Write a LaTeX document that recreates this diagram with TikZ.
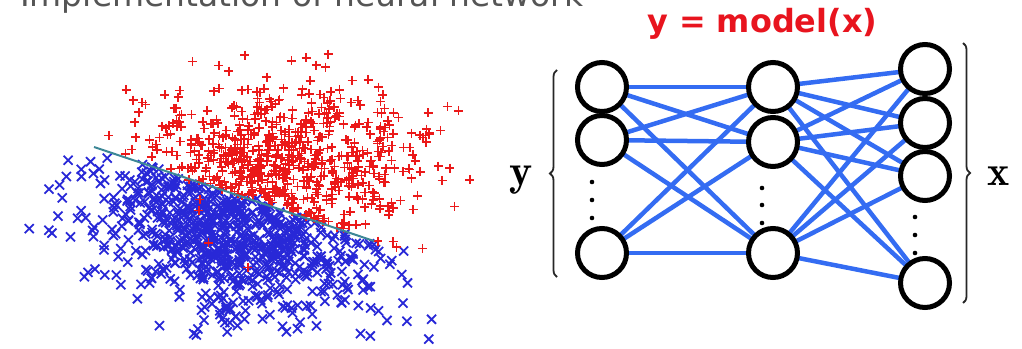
\documentclass[tikz,border=0pt]{standalone}
\usepackage{fontspec}
\newfontfamily\titlefont{DejaVu Sans}
\newfontfamily\modelfont{DejaVu Sans}
\usetikzlibrary{decorations.pathreplacing,backgrounds}
\definecolor{titlegray}{RGB}{85,85,85}
\definecolor{modelred}{RGB}{232,20,30}
\definecolor{edgeblue}{RGB}{52,108,242}
\definecolor{ptred}{RGB}{235,25,25}
\definecolor{ptblue}{RGB}{40,40,215}
\definecolor{sepline}{RGB}{60,135,150}
\tikzset{
  neuron/.style={circle,draw=black,line width=5pt,minimum size=49pt,inner sep=0pt,fill=white},
  edge/.style={draw=edgeblue,line width=4.5pt},
  redmark/.style={draw=ptred,line width=1.6pt},
  bluemark/.style={draw=ptblue,line width=1.8pt},
  dotmark/.style={fill=black,draw=none},
  bracedeco/.style={decorate,decoration={brace,amplitude=7pt},line width=1.8pt,draw=black!85},
}
\begin{document}
\begin{tikzpicture}[x=1pt,y=-1pt]
\useasboundingbox (0,0) rectangle (1022,348);
% title (cut off at top)
\node[anchor=base west,inner sep=0pt,text=titlegray] (title) at (20,6)
  {\resizebox{563pt}{!}{\titlefont Implementation of neural network}};
% scatter plot
\pgfmathsetseed{4711}
\foreach \i in {1,...,950}{
  \pgfmathsetmacro\ua{rnd*0.998+0.001}
  \pgfmathsetmacro\ub{rnd}
  \pgfmathsetmacro\uc{rnd}
  \pgfmathsetmacro\za{sqrt(-2*ln(\ua))*cos(360*\ub)}
  \pgfmathsetmacro\zb{sqrt(-2*ln(\ua))*sin(360*\ub)}
  \pgfmathsetmacro\px{232+72*0.948*\za-38*0.317*\zb}
  \pgfmathsetmacro\py{232+72*0.317*\za+38*0.948*\zb}
  \pgfmathtruncatemacro\keep{((\py > 147+0.3357*(\px-94)) || (\uc<0.02)) && (\px>18) && (\px<490) && (\py>50) && (\py<342) ? 1 : 0}
  \ifnum\keep=1
    \draw[bluemark] (\px,\py) +(-4.5,-4.5) -- +(4.5,4.5) +(-4.5,4.5) -- +(4.5,-4.5);
  \fi
}
\foreach \i in {1,...,820}{
  \pgfmathsetmacro\ua{rnd*0.998+0.001}
  \pgfmathsetmacro\ub{rnd}
  \pgfmathsetmacro\uc{rnd}
  \pgfmathsetmacro\za{sqrt(-2*ln(\ua))*cos(360*\ub)}
  \pgfmathsetmacro\zb{sqrt(-2*ln(\ua))*sin(360*\ub)}
  \pgfmathsetmacro\px{268+76*\za}
  \pgfmathsetmacro\py{168+42*\zb}
  \pgfmathtruncatemacro\keep{((\py < 147+0.3357*(\px-94)) || (\uc<0.05)) && (\px>18) && (\px<490) && (\py>50) && (\py<342) ? 1 : 0}
  \ifnum\keep=1
    \draw[redmark] (\px,\py) +(-4.5,0) -- +(4.5,0) +(0,-4.5) -- +(0,4.5);
  \fi
}
\coordinate (sepA) at (94,147);
\coordinate (sepB) at (374,241);
\draw[sepline,line width=2pt] (sepA) -- (sepB);
% neural network
\node[neuron] (l1) at (602,87) {};
\node[neuron] (l2) at (602,140) {};
\node[neuron] (l3) at (602,253) {};
\node[neuron] (m1) at (773,87) {};
\node[neuron] (m2) at (773,142) {};
\node[neuron] (m3) at (773,253) {};
\node[neuron] (r1) at (925,69) {};
\node[neuron] (r2) at (925,123) {};
\node[neuron] (r3) at (925,176) {};
\node[neuron] (r4) at (925,283) {};
\begin{scope}[on background layer]
\foreach \a in {l1,l2,l3}{\foreach \b in {m1,m2,m3}{\draw[edge] (\a.center) -- (\b.center);}}
\foreach \a in {m1,m2,m3}{\foreach \b in {r1,r2,r3,r4}{\draw[edge] (\a.center) -- (\b.center);}}
\end{scope}
% vertical dots
\foreach \y in {182,200,218}{\fill[dotmark] (592,\y) circle (2.3);}
\foreach \y in {188,205,223}{\fill[dotmark] (762,\y) circle (2.3);}
\foreach \y in {217,235,253}{\fill[dotmark] (915,\y) circle (2.3);}
% braces
\coordinate (lbB) at (557,277);
\coordinate (lbT) at (557,70);
\draw[bracedeco] (lbB) -- (lbT);
\coordinate (rbT) at (963,43);
\coordinate (rbB) at (963,303);
\draw[bracedeco] (rbT) -- (rbB);
\node[anchor=base,inner sep=0pt] (ylab) at (521,185) {\fontsize{44}{44}\selectfont$\mathbf{y}$};
\node[anchor=base,inner sep=0pt] (xlab) at (999,185) {\fontsize{42}{42}\selectfont$\mathbf{x}$};
% model label
\node[anchor=base west,inner sep=0pt,text=modelred] (model) at (647,33)
  {\resizebox{230pt}{!}{\modelfont\bfseries y = model(x)}};
\end{tikzpicture}
\end{document}
